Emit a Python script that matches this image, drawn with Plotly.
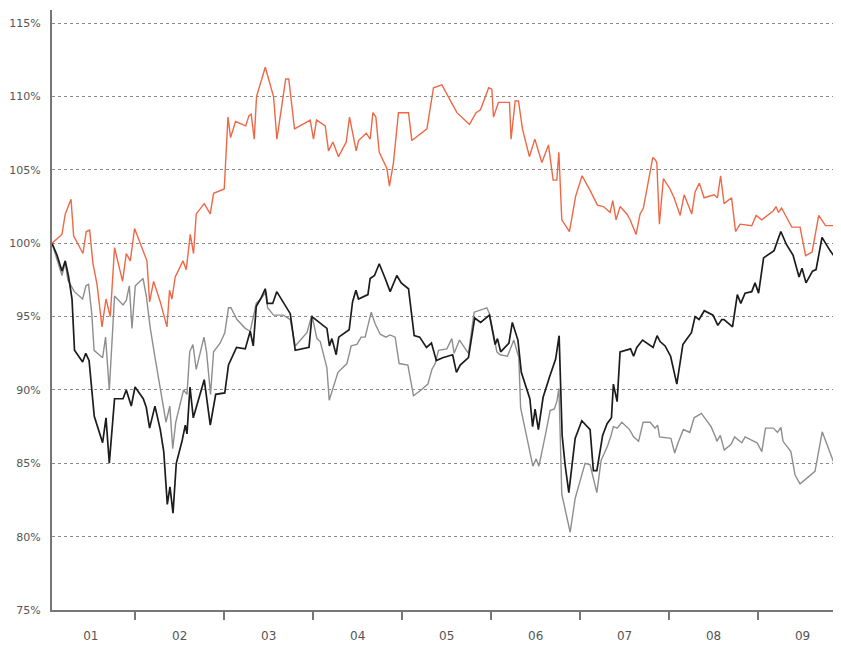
import plotly.graph_objects as go

# time axis in months from 1 January (0 = start of Jan, 1 = start of Feb, ...)
month_labels = ["01", "02", "03", "04", "05", "06", "07", "08", "09"]
month_bounds = [1, 2, 3, 4, 5, 6, 7, 8]
y_ticks = [75, 80, 85, 90, 95, 100, 105, 110, 115]

orange_x = [0.064, 0.124, 0.176, 0.213, 0.278, 0.307, 0.360, 0.412, 0.449, 0.487,
            0.525, 0.570, 0.626, 0.671, 0.719, 0.767, 0.857, 0.899, 0.944, 0.992,
            1.131, 1.161, 1.206, 1.281, 1.356, 1.385, 1.412, 1.449, 1.536, 1.573,
            1.618, 1.655, 1.685, 1.775, 1.843, 1.880, 2.000, 2.042, 2.071, 2.127,
            2.242, 2.278, 2.303, 2.337, 2.363, 2.461, 2.554, 2.592, 2.691, 2.725,
            2.790, 2.966, 3.003, 3.037, 3.135, 3.172, 3.221, 3.284, 3.371, 3.408,
            3.483, 3.509, 3.596, 3.640, 3.671, 3.704, 3.742, 3.828, 3.857, 3.902,
            3.958, 4.071, 4.109, 4.278, 4.352, 4.446, 4.615, 4.756, 4.831, 4.880,
            4.972, 5.008, 5.026, 5.082, 5.206, 5.224, 5.270, 5.307, 5.352, 5.430,
            5.491, 5.570, 5.644, 5.697, 5.738, 5.761, 5.794, 5.880, 5.949, 5.970,
            6.022, 6.112, 6.194, 6.262, 6.337, 6.367, 6.404, 6.449, 6.525, 6.562,
            6.629, 6.674, 6.711, 6.817, 6.843, 6.862, 6.891, 6.936, 7.011, 7.056,
            7.124, 7.169, 7.255, 7.292, 7.340, 7.393, 7.506, 7.543, 7.579, 7.618,
            7.702, 7.747, 7.798, 7.929, 7.978, 8.042, 8.169, 8.202, 8.230, 8.264,
            8.379, 8.472, 8.534, 8.607, 8.682, 8.758, 8.865, 8.891, 8.933]
orange_y = [100.0, 100.3, 100.6, 102.0, 103.0, 100.5, 99.9, 99.3, 100.8, 100.9,
            98.6, 97.2, 94.3, 96.2, 95.0, 99.7, 97.4, 99.3, 98.8, 101.0,
            98.8, 96.0, 97.4, 96.0, 94.3, 96.8, 96.2, 97.7, 98.8, 98.2,
            100.6, 99.3, 102.0, 102.7, 102.0, 103.4, 103.7, 108.6, 107.2, 108.3,
            108.0, 108.7, 108.8, 107.1, 110.0, 112.0, 110.0, 107.1, 111.2, 111.2,
            107.8, 108.4, 107.1, 108.4, 108.0, 106.3, 106.9, 105.9, 106.9, 108.6,
            106.3, 107.0, 107.5, 107.1, 108.9, 108.6, 106.2, 105.1, 103.9, 105.5,
            108.9, 108.9, 107.0, 107.8, 110.6, 110.8, 108.9, 108.1, 108.9, 109.1,
            110.6, 110.5, 108.6, 109.6, 109.6, 107.1, 109.7, 109.7, 107.8, 105.9,
            107.1, 105.5, 106.7, 104.3, 104.3, 106.2, 101.6, 100.8, 103.2, 103.6,
            104.6, 103.6, 102.6, 102.5, 102.1, 102.9, 101.6, 102.5, 102.0, 101.6,
            100.6, 102.0, 102.4, 105.85, 105.7, 105.5, 101.3, 104.4, 103.7, 103.1,
            101.9, 103.3, 102.0, 103.5, 104.1, 103.1, 103.3, 103.1, 104.6, 102.7,
            103.1, 100.8, 101.3, 101.2, 101.9, 101.6, 102.2, 102.5, 102.1, 102.4,
            101.1, 101.1, 99.15, 99.4, 101.9, 101.2, 101.2, 100.9, 100.9]

black_x = [0.064, 0.120, 0.176, 0.213, 0.251, 0.289, 0.317, 0.408, 0.444, 0.481,
           0.539, 0.633, 0.671, 0.708, 0.767, 0.862, 0.899, 0.955, 0.997, 1.090,
           1.124, 1.161, 1.221, 1.281, 1.320, 1.360, 1.390, 1.424, 1.461, 1.525,
           1.562, 1.581, 1.615, 1.652, 1.775, 1.843, 1.904, 2.006, 2.048, 2.096,
           2.138, 2.236, 2.292, 2.326, 2.360, 2.408, 2.461, 2.483, 2.545, 2.590,
           2.674, 2.742, 2.798, 2.953, 2.985, 3.154, 3.182, 3.210, 3.258, 3.287,
           3.404, 3.442, 3.480, 3.509, 3.615, 3.640, 3.689, 3.742, 3.809, 3.865,
           3.940, 3.989, 4.071, 4.109, 4.135, 4.197, 4.273, 4.329, 4.384, 4.455,
           4.567, 4.610, 4.652, 4.745, 4.815, 4.882, 4.981, 5.045, 5.071, 5.107,
           5.200, 5.238, 5.301, 5.339, 5.435, 5.466, 5.494, 5.531, 5.584, 5.657,
           5.725, 5.764, 5.798, 5.831, 5.873, 5.944, 6.019, 6.112, 6.149, 6.188,
           6.253, 6.303, 6.352, 6.374, 6.416, 6.449, 6.545, 6.567, 6.601, 6.637,
           6.702, 6.820, 6.865, 6.899, 6.955, 7.017, 7.087, 7.155, 7.191, 7.251,
           7.292, 7.337, 7.396, 7.494, 7.548, 7.592, 7.618, 7.713, 7.767, 7.806,
           7.854, 7.929, 7.966, 8.006, 8.062, 8.180, 8.256, 8.320, 8.393, 8.461,
           8.494, 8.539, 8.612, 8.652, 8.719, 8.809, 8.882, 8.933]
black_y = [100.0, 99.2, 98.1, 98.8, 97.7, 96.2, 92.7, 91.9, 92.5, 92.0,
           88.2, 86.4, 88.1, 85.0, 89.4, 89.4, 90.0, 88.9, 90.2, 89.4,
           88.8, 87.4, 88.9, 87.3, 85.8, 82.2, 83.4, 81.6, 85.0, 86.5,
           87.6, 87.0, 90.2, 88.1, 90.7, 87.6, 89.7, 89.8, 91.7, 92.3,
           92.9, 92.8, 94.0, 93.0, 95.7, 96.2, 96.9, 95.9, 95.9, 96.7,
           95.9, 95.2, 92.7, 92.9, 95.0, 94.2, 93.0, 93.5, 92.4, 93.6,
           94.1, 96.0, 96.8, 96.2, 96.5, 97.6, 97.8, 98.6, 97.6, 96.7,
           97.8, 97.3, 96.9, 95.1, 93.7, 93.6, 92.9, 93.2, 92.0, 92.2,
           92.4, 91.2, 91.7, 92.2, 94.9, 94.6, 95.1, 93.1, 93.5, 92.6,
           93.2, 94.6, 93.4, 91.2, 89.4, 87.5, 88.7, 87.3, 89.5, 90.9,
           92.1, 93.7, 86.9, 84.9, 83.0, 86.7, 87.9, 87.3, 84.5, 84.5,
           86.9, 87.7, 88.1, 90.4, 89.2, 92.6, 92.8, 92.8, 92.3, 92.9,
           93.4, 92.9, 93.7, 93.3, 93.0, 92.3, 90.4, 93.1, 93.4, 93.9,
           95.0, 94.8, 95.4, 95.1, 94.4, 94.8, 94.8, 94.3, 96.5, 95.9,
           96.6, 96.7, 97.3, 96.6, 99.0, 99.5, 100.8, 99.9, 99.2, 97.7,
           98.3, 97.3, 98.1, 98.2, 100.4, 99.5, 98.9, 100.6]

gray_x = [0.064, 0.120, 0.176, 0.213, 0.242, 0.315, 0.408, 0.446, 0.475, 0.511,
          0.537, 0.633, 0.666, 0.708, 0.767, 0.862, 0.899, 0.933, 0.963, 1.000,
          1.087, 1.124, 1.169, 1.225, 1.345, 1.388, 1.421, 1.455, 1.525, 1.543,
          1.581, 1.612, 1.648, 1.685, 1.772, 1.801, 1.846, 1.880, 1.955, 2.006,
          2.048, 2.075, 2.143, 2.236, 2.292, 2.360, 2.424, 2.472, 2.487, 2.554,
          2.666, 2.742, 2.798, 2.929, 2.985, 3.042, 3.079, 3.154, 3.180, 3.228,
          3.278, 3.379, 3.427, 3.491, 3.539, 3.584, 3.652, 3.697, 3.753, 3.817,
          3.865, 3.921, 3.966, 4.064, 4.127, 4.213, 4.289, 4.334, 4.371, 4.408,
          4.502, 4.558, 4.584, 4.644, 4.745, 4.809, 4.952, 4.981, 5.064, 5.101,
          5.183, 5.255, 5.311, 5.331, 5.410, 5.469, 5.506, 5.537, 5.612, 5.663,
          5.710, 5.738, 5.762, 5.794, 5.888, 5.944, 6.000, 6.056, 6.112, 6.188,
          6.236, 6.309, 6.348, 6.374, 6.418, 6.469, 6.556, 6.601, 6.657, 6.708,
          6.787, 6.843, 6.871, 6.893, 7.020, 7.063, 7.101, 7.161, 7.233, 7.281,
          7.363, 7.472, 7.522, 7.536, 7.576, 7.620, 7.697, 7.736, 7.817, 7.854,
          7.921, 7.989, 8.042, 8.084, 8.172, 8.219, 8.256, 8.281, 8.369, 8.416,
          8.472, 8.556, 8.640, 8.721, 8.854, 8.933]
gray_y = [100.0, 98.9, 97.8, 98.7, 97.5, 96.7, 96.2, 97.1, 97.2, 95.2,
          92.7, 92.2, 93.6, 90.0, 96.4, 95.8, 96.1, 97.1, 94.2, 97.1,
          97.6, 96.4, 94.2, 92.1, 87.8, 88.9, 86.0, 87.8, 89.7, 90.0,
          89.7, 92.6, 93.1, 91.4, 93.6, 92.6, 89.7, 92.6, 93.2, 93.9,
          95.6, 95.6, 94.8, 94.2, 94.0, 95.9, 96.3, 96.7, 95.6, 95.1,
          95.1, 94.8, 93.0, 93.9, 95.1, 93.5, 93.3, 91.5, 89.3, 90.3,
          91.2, 91.8, 93.0, 93.1, 93.6, 93.6, 95.3, 94.5, 93.8, 93.6,
          93.75, 93.6, 91.8, 91.7, 89.6, 90.0, 90.4, 91.4, 91.8, 92.7,
          92.8, 93.5, 92.5, 93.4, 92.5, 95.3, 95.6, 95.2, 92.6, 92.4,
          92.3, 93.4, 92.2, 88.8, 86.6, 84.8, 85.3, 84.8, 87.0, 88.6,
          88.7, 89.2, 90.1, 82.9, 80.3, 82.6, 83.8, 85.0, 84.9, 83.0,
          85.2, 86.2, 86.9, 87.5, 87.4, 87.8, 87.3, 86.8, 86.5, 87.8,
          87.8, 87.4, 87.6, 86.8, 86.7, 85.7, 86.4, 87.3, 87.1, 88.1,
          88.4, 87.5, 86.8, 86.5, 86.9, 85.9, 86.3, 86.8, 86.4, 86.8,
          86.6, 86.4, 85.8, 87.4, 87.4, 87.1, 87.45, 86.5, 85.8, 84.2,
          83.6, 84.0, 84.45, 87.15, 85.0, 85.8]

fig = go.Figure()
fig.add_trace(go.Scatter(x=gray_x, y=gray_y, mode="lines",
                         line=dict(color="#8e8e8e", width=1.4), showlegend=False))
fig.add_trace(go.Scatter(x=black_x, y=black_y, mode="lines",
                         line=dict(color="#1c1c1c", width=1.7), showlegend=False))
fig.add_trace(go.Scatter(x=orange_x, y=orange_y, mode="lines",
                         line=dict(color="#ee6846", width=1.4), showlegend=False))

label_pos = [b - 0.5 for b in month_bounds] + [month_bounds[-1] + 0.5]

# the page body adds an 8px offset, so the figure is sized to fit the window
fig.update_layout(
    width=833, height=641,
    margin=dict(l=44, r=1, t=2, b=39, autoexpand=False),
    paper_bgcolor="white", plot_bgcolor="white",
    font=dict(family="DejaVu Sans", size=11, color="#555555"),
    xaxis=dict(
        range=[0.064, 8.921], automargin=False,
        tickmode="array", tickvals=label_pos, ticktext=month_labels,
        ticks="", showgrid=False, zeroline=False,
        showline=True, linecolor="#777777", linewidth=2,
        ticklabelstandoff=14, tickfont=dict(size=12),
        minor=dict(tickmode="array", tickvals=month_bounds, ticks="outside",
                   ticklen=8, tickwidth=2, tickcolor="#777777", showgrid=False),
    ),
    yaxis=dict(
        range=[75, 115.9], automargin=False,
        tickmode="array", tickvals=y_ticks,
        ticktext=[f"{v}%" for v in y_ticks],
        ticks="", showgrid=True, gridcolor="#8a8a8a", griddash="dot", gridwidth=1,
        zeroline=False, showline=True, linecolor="#777777", linewidth=2,
        ticklabelstandoff=7,
    ),
)

fig.write_html("out.html")
